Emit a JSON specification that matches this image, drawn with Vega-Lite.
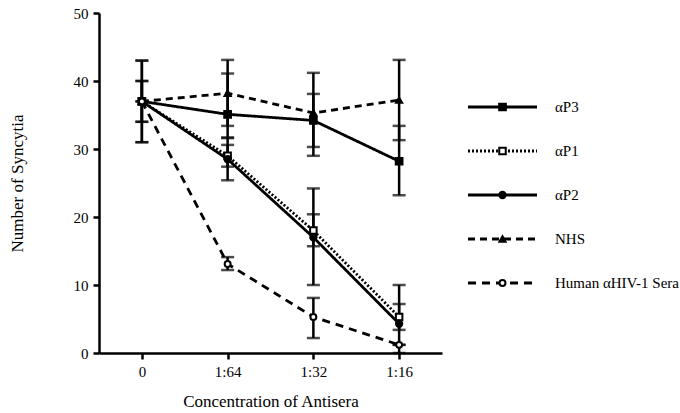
{
  "$schema": "https://vega.github.io/schema/vega-lite/v6.json",
  "padding": {"left": 8, "top": 6, "right": 0, "bottom": 0},
  "background": "white",
  "config": {
    "view": {"stroke": null},
    "font": "Liberation Serif, Times New Roman, DejaVu Serif, serif",
    "text": {"font": "Liberation Serif, Times New Roman, DejaVu Serif, serif"},
    "axis": {"labelFont": "Liberation Serif, Times New Roman, DejaVu Serif, serif", "titleFont": "Liberation Serif, Times New Roman, DejaVu Serif, serif", "labelColor": "black", "titleColor": "black", "titleFontWeight": "normal", "grid": false, "domainColor": "black", "tickColor": "black", "domainWidth": 2.5, "tickWidth": 2.5, "tickSize": 6, "labelFontSize": 15, "titleFontSize": 17}
  },
  "datasets": {
    "pts": [
      {"series": "αP3", "conc": "0", "value": 37, "lo": 31, "hi": 43},
      {"series": "αP3", "conc": "1:64", "value": 35.1, "lo": 31.7, "hi": 41.1},
      {"series": "αP3", "conc": "1:32", "value": 34.2, "lo": 30.3, "hi": 38.1},
      {"series": "αP3", "conc": "1:16", "value": 28.2, "lo": 23.2, "hi": 33.4},
      {"series": "αP1", "conc": "0", "value": 37, "lo": 34, "hi": 40},
      {"series": "αP1", "conc": "1:64", "value": 29, "lo": 27.4, "hi": 30.6},
      {"series": "αP1", "conc": "1:32", "value": 18, "lo": 15.7, "hi": 20.4},
      {"series": "αP1", "conc": "1:16", "value": 5.3, "lo": 3.4, "hi": 7.2},
      {"series": "αP2", "conc": "0", "value": 37, "lo": 31, "hi": 43},
      {"series": "αP2", "conc": "1:64", "value": 28.5, "lo": 25.4, "hi": 31.6},
      {"series": "αP2", "conc": "1:32", "value": 17, "lo": 10, "hi": 24.2},
      {"series": "αP2", "conc": "1:16", "value": 4.3, "lo": 0, "hi": 10},
      {"series": "NHS", "conc": "0", "value": 37, "lo": 34, "hi": 40},
      {"series": "NHS", "conc": "1:64", "value": 38.2, "lo": 33.4, "hi": 43.1},
      {"series": "NHS", "conc": "1:32", "value": 35.3, "lo": 29, "hi": 41.2},
      {"series": "NHS", "conc": "1:16", "value": 37.2, "lo": 31.3, "hi": 43.1},
      {"series": "Human αHIV-1 Sera", "conc": "0", "value": 37, "lo": 37, "hi": 37},
      {"series": "Human αHIV-1 Sera", "conc": "1:64", "value": 13.1, "lo": 12.2, "hi": 14.1},
      {"series": "Human αHIV-1 Sera", "conc": "1:32", "value": 5.3, "lo": 2.2, "hi": 8.1},
      {"series": "Human αHIV-1 Sera", "conc": "1:16", "value": 1.2, "lo": 1.2, "hi": 1.2}
    ],
    "leg": [
      {"series": "αP3"},
      {"series": "αP1"},
      {"series": "αP2"},
      {"series": "NHS"},
      {"series": "Human αHIV-1 Sera"}
    ]
  },
  "hconcat": [
    {
      "width": 343,
      "height": 340,
      "data": {"name": "pts"},
      "encoding": {
        "x": {"field": "conc", "type": "ordinal", "scale": {"type": "point", "padding": 0.5, "domain": ["0", "1:64", "1:32", "1:16"]}, "axis": {"labelAngle": 0, "title": "Concentration of Antisera", "labelPadding": 5, "titlePadding": 14}}
      },
      "layer": [
        {"mark": {"type": "rule", "color": "black", "strokeWidth": 2.5}, "encoding": {"y": {"field": "lo", "type": "quantitative", "scale": {"domain": [0, 50]}, "axis": {"values": [0, 10, 20, 30, 40, 50], "title": "Number of Syncytia", "labelPadding": 5, "titlePadding": 47}}, "y2": {"field": "hi"}}},
        {"mark": {"type": "tick", "color": "black", "thickness": 2.5, "size": 13}, "encoding": {"y": {"field": "lo", "type": "quantitative"}}},
        {"mark": {"type": "tick", "color": "black", "thickness": 2.5, "size": 13}, "encoding": {"y": {"field": "hi", "type": "quantitative"}}},
        {"mark": {"type": "line", "color": "black", "strokeWidth": 2.8}, "encoding": {
          "y": {"field": "value", "type": "quantitative"},
          "detail": {"field": "series"},
          "strokeDash": {"field": "series", "type": "nominal", "legend": null, "scale": {"domain": ["αP3", "αP1", "αP2", "NHS", "Human αHIV-1 Sera"], "range": [[1, 0], [2, 2], [1, 0], [7, 5], [8, 6]]}}
        }},
        {"mark": {"type": "point", "filled": true, "stroke": "black", "strokeWidth": 2, "opacity": 1}, "encoding": {
          "y": {"field": "value", "type": "quantitative"},
          "shape": {"field": "series", "type": "nominal", "legend": null, "scale": {"domain": ["αP3", "αP1", "αP2", "NHS", "Human αHIV-1 Sera"], "range": ["square", "square", "circle", "triangle-up", "circle"]}},
          "fill": {"field": "series", "type": "nominal", "legend": null, "scale": {"domain": ["αP3", "αP1", "αP2", "NHS", "Human αHIV-1 Sera"], "range": ["black", "white", "black", "black", "white"]}},
          "size": {"field": "series", "type": "nominal", "legend": null, "scale": {"domain": ["αP3", "αP1", "αP2", "NHS", "Human αHIV-1 Sera"], "range": [45, 35, 40, 50, 22]}}
        }}
      ]
    },
    {
      "width": 69,
      "height": 340,
      "data": {"name": "leg"},
      "encoding": {
        "y": {"field": "series", "type": "nominal", "axis": null, "scale": {"type": "point", "padding": 0, "domain": ["αP3", "αP1", "αP2", "NHS", "Human αHIV-1 Sera"], "range": [94, 270]}}
      },
      "layer": [
        {"mark": {"type": "rule", "color": "black", "strokeWidth": 2.8}, "encoding": {
          "x": {"datum": 0, "type": "quantitative", "scale": {"domain": [0, 1]}, "axis": null},
          "x2": {"datum": 1},
          "strokeDash": {"field": "series", "type": "nominal", "legend": null, "scale": {"domain": ["αP3", "αP1", "αP2", "NHS", "Human αHIV-1 Sera"], "range": [[1, 0], [2, 2], [1, 0], [7, 5], [8, 6]]}}
        }},
        {"mark": {"type": "point", "filled": true, "stroke": "black", "strokeWidth": 2, "opacity": 1}, "encoding": {
          "x": {"datum": 0.5, "type": "quantitative"},
          "shape": {"field": "series", "type": "nominal", "legend": null, "scale": {"domain": ["αP3", "αP1", "αP2", "NHS", "Human αHIV-1 Sera"], "range": ["square", "square", "circle", "triangle-up", "circle"]}},
          "fill": {"field": "series", "type": "nominal", "legend": null, "scale": {"domain": ["αP3", "αP1", "αP2", "NHS", "Human αHIV-1 Sera"], "range": ["black", "white", "black", "black", "white"]}},
          "size": {"field": "series", "type": "nominal", "legend": null, "scale": {"domain": ["αP3", "αP1", "αP2", "NHS", "Human αHIV-1 Sera"], "range": [45, 35, 40, 50, 22]}}
        }},
        {"mark": {"type": "text", "align": "left", "baseline": "middle", "dx": 18, "fontSize": 15, "color": "black"}, "encoding": {
          "x": {"datum": 1, "type": "quantitative"},
          "text": {"field": "series"}
        }}
      ]
    }
  ],
  "spacing": 24,
  "resolve": {"scale": {"x": "independent", "y": "independent"}}
}
